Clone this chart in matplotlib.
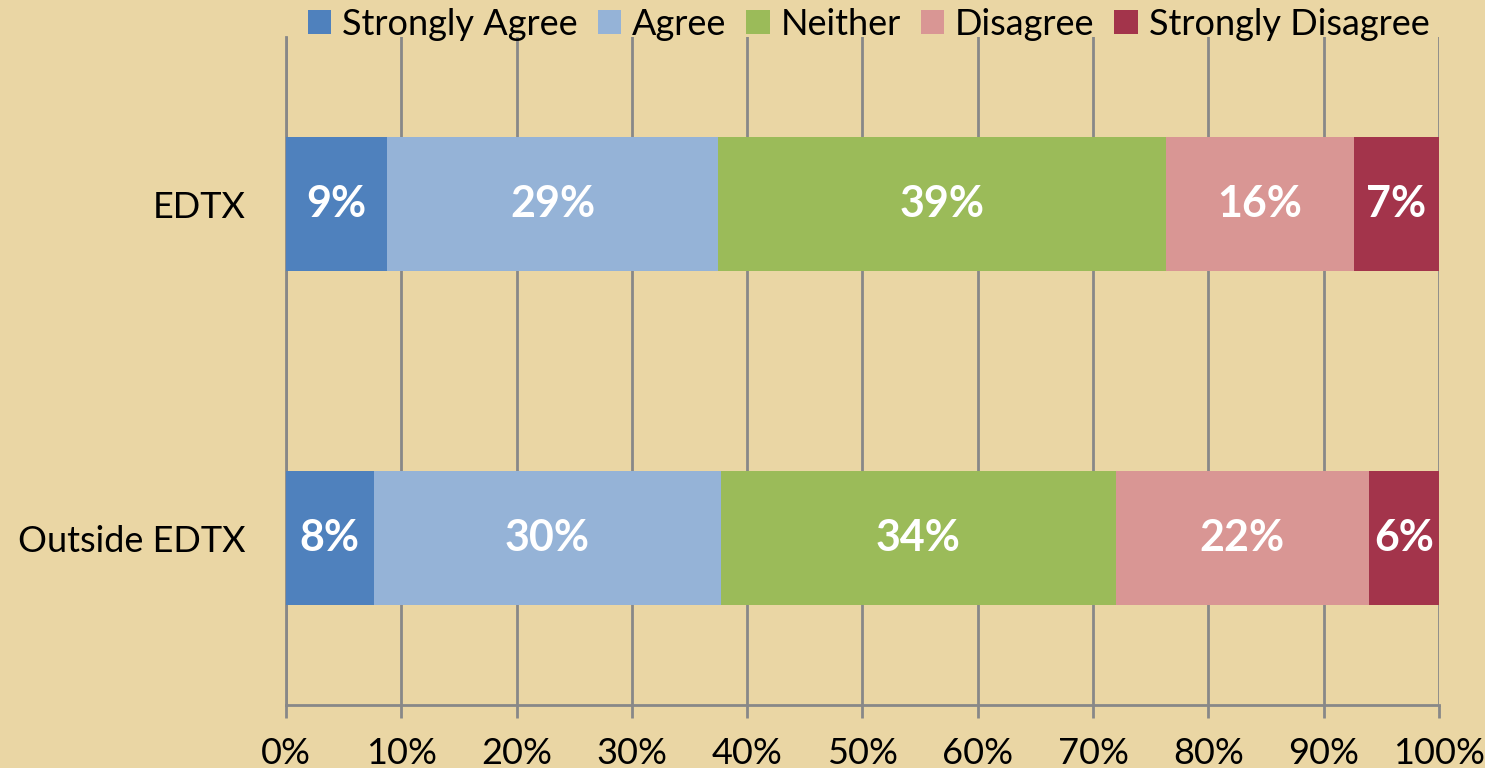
import matplotlib.pyplot as plt
import numpy as np

plt.rcParams['font.family'] = ['Lato', 'DejaVu Sans']

# survey answers, percent of respondents
groups = ['EDTX', 'Outside EDTX']
answers = ['Strongly Agree', 'Agree', 'Neither', 'Disagree', 'Strongly Disagree']
edtx = [8.8, 28.7, 38.8, 16.3, 7.4]
outside = [7.6, 30.1, 34.3, 21.9, 6.1]
colors = ['#4F81BD', '#95B3D7', '#9BBB59', '#D99694', '#A3344B']

values = np.array([edtx, outside])

bg = '#EAD6A4'
fig = plt.figure(figsize=(14.85, 7.68), dpi=100, facecolor=bg)
ax = fig.add_axes([0.1926, 0.082, 0.7764, 0.8696])
ax.set_facecolor(bg)

y = np.arange(len(groups))
left = np.zeros(len(groups))
for i, name in enumerate(answers):
    bars = ax.barh(y, values[:, i], left=left, height=0.4, color=colors[i],
                   label=name, zorder=3)
    for j, b in enumerate(bars):
        ax.text(left[j] + values[j, i] / 2, y[j], '%d%%' % round(values[j, i]),
                ha='center', va='center', color='white', fontsize=31,
                fontweight='bold', zorder=4)
    left += values[:, i]

ax.set_xlim(0, 100)
ax.set_ylim(1.5, -0.5)
ax.set_xticks(np.arange(0, 101, 10))
ax.set_xticklabels(['%d%%' % t for t in range(0, 101, 10)], fontsize=26)
ax.set_yticks(y)
ax.set_yticklabels(groups, fontsize=26)
ax.grid(axis='x', color='#888888', linewidth=2, zorder=1)
for s in ['top', 'right']:
    ax.spines[s].set_visible(False)
for s in ['left', 'bottom']:
    ax.spines[s].set_color('#888888')
    ax.spines[s].set_linewidth(2)
ax.tick_params(axis='x', length=9, width=2, color='#888888', pad=14)
ax.tick_params(axis='y', length=0, pad=29)

fig.legend(loc='upper center', bbox_to_anchor=(0.585, 1.032), ncol=5,
           frameon=False, fontsize=26, handlelength=0.65, handleheight=0.65,
           handletextpad=0.3, columnspacing=0.55)

fig.savefig('out.png', dpi=100, facecolor=bg)
